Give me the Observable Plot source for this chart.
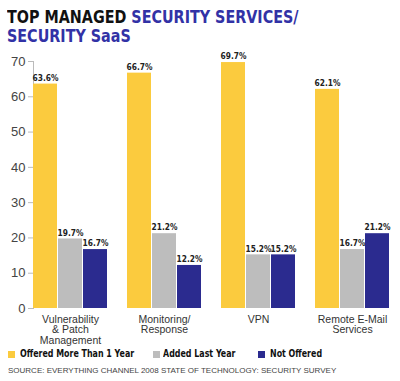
<!DOCTYPE html>
<html><head><meta charset="utf-8">
<script src="https://cdn.jsdelivr.net/npm/d3@7"></script>
<script src="https://cdn.jsdelivr.net/npm/@observablehq/plot@0.6"></script>
<style>
body{margin:0;background:#fff;width:400px;height:381px;overflow:hidden;font-family:"Liberation Sans",Arial,sans-serif;}
#title{position:absolute;left:7px;top:7px;font-family:"DejaVu Sans Condensed","Liberation Sans",sans-serif;font-weight:bold;font-size:18px;line-height:19px;transform:scaleX(0.885);transform-origin:0 0;white-space:nowrap;}
#title .k{color:#111}
#title .b{color:#3232a6}
#legend{position:absolute;left:0;top:347px;font-family:"DejaVu Sans Condensed",sans-serif;font-weight:bold;font-size:11px;color:#111;white-space:nowrap;}
#legend i{position:absolute;top:4px;left:0;width:7px;height:7px}
#legend .t{position:absolute;top:0;display:inline-block;transform:scaleX(0.8);transform-origin:0 0;white-space:nowrap}
#source{position:absolute;left:8px;top:366px;font-size:8px;color:#444;white-space:nowrap;}
#chart{position:absolute;left:0;top:48px}
</style></head><body>
<div id="title"><span class="k">TOP MANAGED </span><span class="b">SECURITY SERVICES/<br>SECURITY SaaS</span></div>
<div id="chart"></div>
<div id="legend"></div>
<div id="source">SOURCE: EVERYTHING CHANNEL 2008 STATE OF TECHNOLOGY: SECURITY SURVEY</div>
<script>
const categories = ["Vulnerability\n& Patch\nManagement", "Monitoring/\nResponse", "VPN", "Remote E-Mail\nServices"];
const series = ["Offered More Than 1 Year", "Added Last Year", "Not Offered"];
const colors = ["#fbcb3e", "#bdbdbd", "#2b2b8f"];
const offered = [63.6, 66.7, 69.7, 62.1];
const added = [19.7, 21.2, 15.2, 16.7];
const notOffered = [16.7, 12.2, 15.2, 21.2];
const yTicks = [0, 10, 20, 30, 40, 50, 60, 70];

const values = [offered, added, notOffered];
const data = [];
categories.forEach((c, i) => series.forEach((s, j) => data.push({cat: c, series: s, value: values[j][i]})));

const chart = Plot.plot({
  width: 400,
  height: 300,
  marginTop: 13,
  marginBottom: 40,
  marginLeft: 33,
  marginRight: 10,
  style: {fontFamily: '"Liberation Sans", Arial, sans-serif', color: "#333"},
  fx: {domain: categories, paddingInner: 0.21, paddingOuter: 0, label: null},
  x: {domain: series, paddingInner: 0.06, paddingOuter: 0, axis: null},
  y: {domain: [0, 70], label: null},
  color: {domain: series, range: colors},
  marks: [
    Plot.frame({anchor: "left", facetAnchor: "left", stroke: "#bbb"}),
    Plot.axisY({ticks: yTicks, tickSize: 5, tickPadding: 3, stroke: "#bbb", fontSize: 13, fill: "#444", label: null}),
    Plot.axisFx({anchor: "bottom", tickSize: 0, tickPadding: 7, fontSize: 10.5, lineHeight: 1.0, fill: "#333", label: null}),
    Plot.barY(data, {fx: "cat", x: "series", y: "value", fill: "series"}),
    Plot.text(data, {fx: "cat", x: "series", y: "value", text: d => d.value.toFixed(1) + "%", dy: -6,
      fontSize: 8.3, fontWeight: "bold", fill: "#222", fontFamily: '"DejaVu Sans Condensed",sans-serif'})
  ]
});
document.getElementById("chart").appendChild(chart);

const legend = document.getElementById("legend");
const swatchX = [8, 153, 258];
const textX = [20, 163, 270];
series.forEach((s, j) => {
  const sw = document.createElement("i");
  sw.style.left = swatchX[j] + "px";
  sw.style.background = colors[j];
  legend.appendChild(sw);
  const t = document.createElement("span");
  t.className = "t";
  t.style.left = textX[j] + "px";
  t.textContent = s;
  legend.appendChild(t);
});
</script>
</body></html>
